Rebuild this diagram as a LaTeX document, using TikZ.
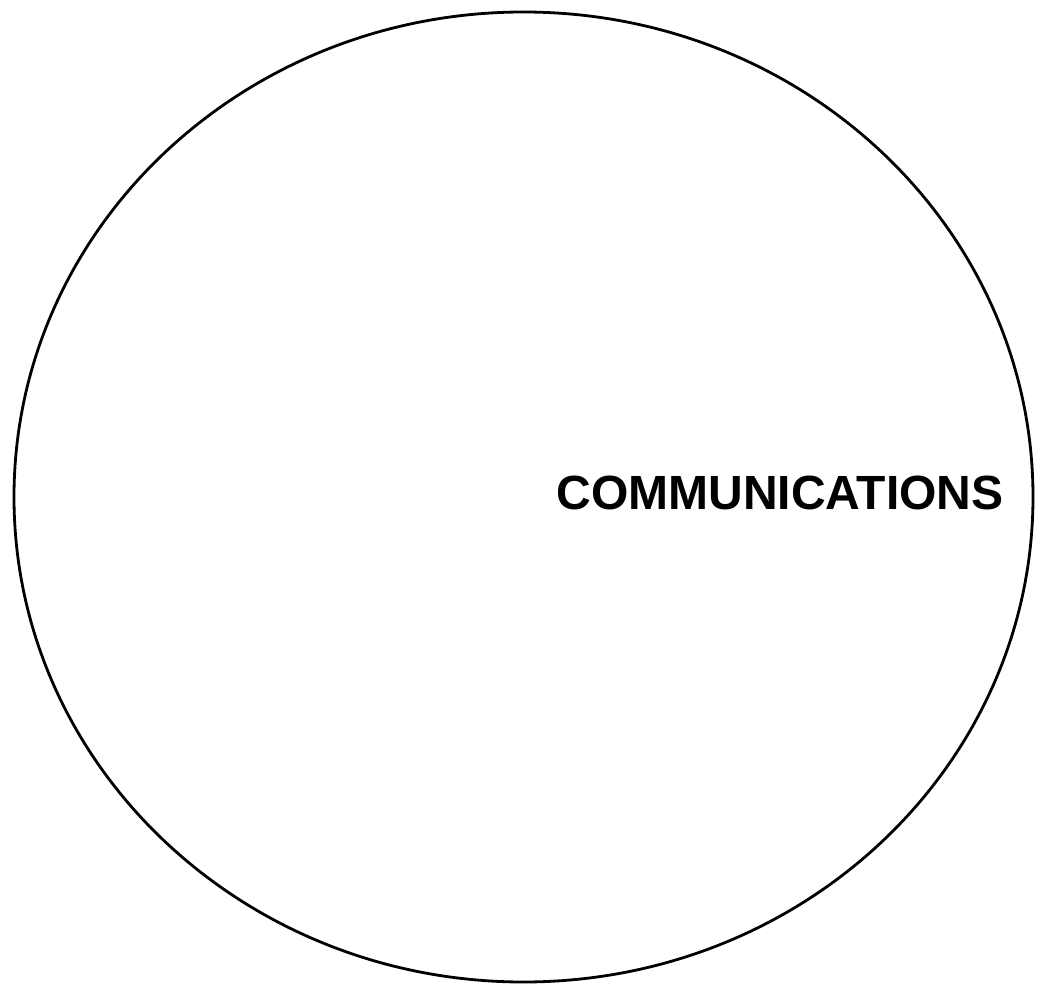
\documentclass[tikz,border=0pt]{standalone}
\usepackage{fontspec}
\setmainfont{Liberation Sans}
\begin{document}
\begin{tikzpicture}[x=0.5pt, y=-0.5pt, line width=1.4pt]
        \useasboundingbox (0,0) rectangle (1039,984);
        \draw (523.5,497) ellipse [x radius=509.5, y radius=485];
        \node[inner sep=0pt, anchor=center] (comm) at (780,493) {\fontsize{24}{28}\selectfont\bfseries COMMUNICATIONS};
    \end{tikzpicture}
\end{document}
